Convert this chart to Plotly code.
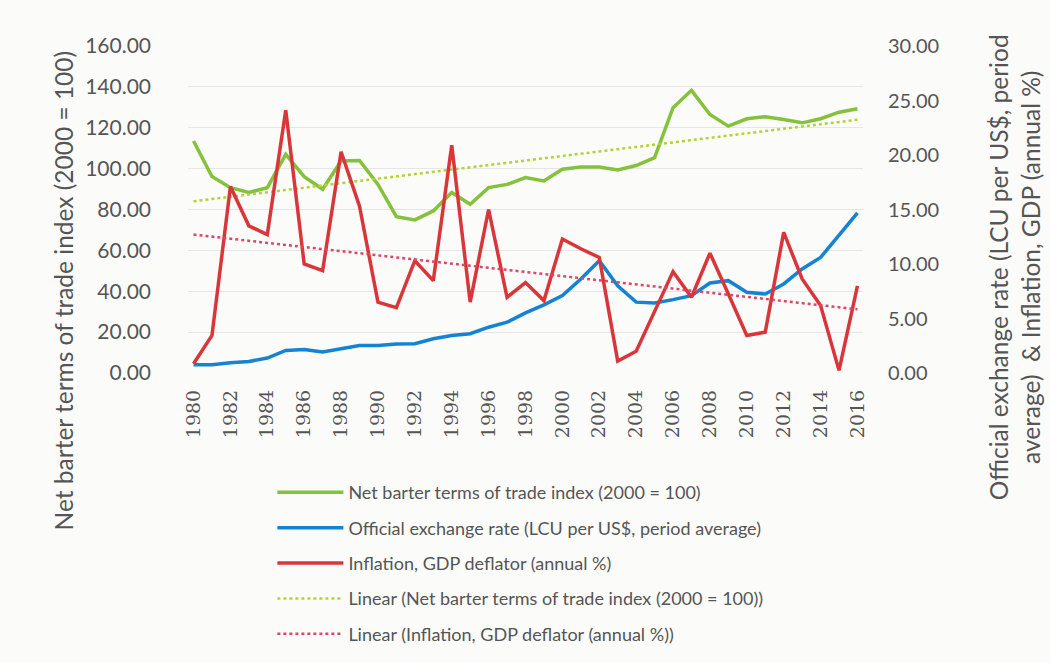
import numpy as np
import plotly.graph_objects as go

# Annual series, 1980-2016
years = list(range(1980, 2017))

terms_of_trade = [113.5, 96.1, 90.7, 88.3, 90.7, 107.0, 96.1, 89.9, 103.7, 104.0,
                  92.3, 76.5, 74.9, 79.3, 88.3, 82.6, 90.7, 92.3, 95.6, 94.0,
                  99.7, 100.8, 100.8, 99.3, 101.5, 105.4, 129.8, 138.3, 126.5, 120.8,
                  124.4, 125.4, 124.0, 122.4, 124.4, 127.6, 129.3]

exchange_rate = [0.76, 0.76, 0.94, 1.06, 1.37, 2.07, 2.16, 1.92, 2.22, 2.53,
                 2.53, 2.65, 2.68, 3.14, 3.44, 3.60, 4.20, 4.66, 5.52, 6.25,
                 7.10, 8.63, 10.30, 8.00, 6.50, 6.43, 6.73, 7.10, 8.26, 8.47,
                 7.40, 7.25, 8.17, 9.54, 10.60, 12.60, 14.70]

inflation = [0.85, 3.44, 17.1, 13.5, 12.7, 24.1, 10.0, 9.39, 20.3, 15.3,
             6.5, 6.0, 10.3, 8.47, 20.9, 6.5, 15.0, 6.95, 8.3, 6.64,
             12.3, 11.4, 10.6, 1.1, 2.0, 5.7, 9.3, 6.95, 11.0, 7.25,
             3.44, 3.75, 12.9, 8.63, 6.2, 0.24, 8.0]

left_ticks = [0, 20, 40, 60, 80, 100, 120, 140, 160]
right_ticks = [0, 5, 10, 15, 20, 25, 30]
x_ticks = list(range(1980, 2017, 2))

names = [
    "Net barter terms of trade index (2000 = 100)",
    "Official exchange rate (LCU per US$, period average)",
    "Inflation, GDP deflator (annual %)",
    "Linear (Net barter terms of trade index (2000 = 100))",
    "Linear (Inflation, GDP deflator (annual %))",
]

GREEN = "#84c13c"
BLUE = "#1583d2"
RED = "#d9363b"
GREEN_TREND = "#b3d334"
RED_TREND = "#d9486a"
TEXT = "#555555"

# Least-squares linear trend lines
x_arr = np.array(years, dtype=float)
tot_fit = np.polyval(np.polyfit(x_arr, terms_of_trade, 1), x_arr)
inf_fit = np.polyval(np.polyfit(x_arr, inflation, 1), x_arr)

fig = go.Figure()
fig.add_trace(go.Scatter(x=years, y=terms_of_trade, name=names[0], mode="lines",
                         line=dict(color=GREEN, width=3.5), legendgroup="a", yaxis="y"))
fig.add_trace(go.Scatter(x=years, y=exchange_rate, name=names[1], mode="lines",
                         line=dict(color=BLUE, width=3.5), legendgroup="b", yaxis="y2"))
fig.add_trace(go.Scatter(x=years, y=inflation, name=names[2], mode="lines",
                         line=dict(color=RED, width=3.5), legendgroup="c", yaxis="y2"))
fig.add_trace(go.Scatter(x=years, y=tot_fit, name=names[3], mode="lines",
                         line=dict(color=GREEN_TREND, width=2.5, dash="dot"), legendgroup="d", yaxis="y"))
fig.add_trace(go.Scatter(x=years, y=inf_fit, name=names[4], mode="lines",
                         line=dict(color=RED_TREND, width=2.5, dash="dot"), legendgroup="e", yaxis="y2"))

fig.update_layout(
    width=1050, height=663,
    margin=dict(l=188, r=187, t=46, b=289),
    paper_bgcolor="#fbfbf9",
    plot_bgcolor="#fbfbf9",
    font=dict(family="Lato, Liberation Sans, sans-serif", color=TEXT),
    xaxis=dict(
        range=[1979.7, 2016.3], tickvals=x_ticks, ticktext=[str(v) for v in x_ticks],
        tickangle=-90, showgrid=False, zeroline=False, showline=False, ticks="",
        tickfont=dict(family="DejaVu Serif, serif", size=19, color=TEXT),
        ticklabelstandoff=12,
    ),
    yaxis=dict(
        range=[0, 160], tickvals=left_ticks, ticktext=[f"{v:.2f}" for v in left_ticks],
        showgrid=True, gridcolor="#e6e6e6", gridwidth=1, zeroline=False, showline=False,
        tickfont=dict(size=21, color=TEXT), ticklabelstandoff=36,
    ),
    yaxis2=dict(
        range=[0, 30], tickvals=right_ticks, ticktext=[f"{v:.2f}" for v in right_ticks],
        overlaying="y", side="right", showgrid=False, zeroline=False, showline=False,
        tickfont=dict(size=20, color=TEXT), ticklabelstandoff=24,
    ),
    legend=dict(
        x=0.125, y=-0.305, xanchor="left", yanchor="top",
        bgcolor="rgba(0,0,0,0)", font=dict(size=18, color=TEXT),
        itemwidth=66, tracegroupgap=9,
    ),
    showlegend=True,
)

fig.add_annotation(
    text="Net barter terms of trade index (2000 = 100)",
    xref="paper", yref="paper", x=-0.185, y=0.25, textangle=-90,
    showarrow=False, font=dict(size=24.5, color=TEXT), xanchor="center", yanchor="middle",
)
fig.add_annotation(
    text="Official exchange rate (LCU per US$, period<br>average)  & Inflation, GDP (annual %)",
    xref="paper", yref="paper", x=1.224, y=0.324, textangle=-90,
    showarrow=False, font=dict(size=24.5, color=TEXT), xanchor="center", yanchor="middle",
)

fig.write_html("out.html")
